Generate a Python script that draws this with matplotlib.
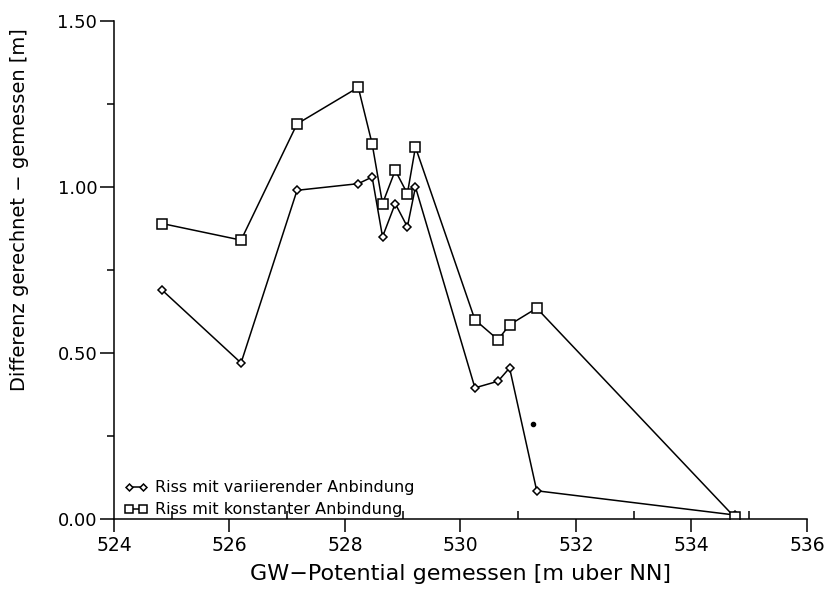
import numpy as np
import matplotlib
matplotlib.use("Agg")
import matplotlib.pyplot as plt
from matplotlib.ticker import MultipleLocator

# GW-Potential gemessen [m über NN]
gw_potential = [524.83, 526.20, 527.17, 528.23, 528.47, 528.65, 528.87,
                529.08, 529.22, 530.25, 530.65, 530.85, 531.32, 534.75]

# Differenz gerechnet - gemessen [m]
diff_variierend = [0.69, 0.47, 0.99, 1.01, 1.03, 0.85, 0.95,
                   0.88, 1.00, 0.395, 0.415, 0.455, 0.085, 0.012]
diff_konstant = [0.89, 0.84, 1.19, 1.30, 1.13, 0.95, 1.05,
                 0.98, 1.12, 0.60, 0.54, 0.585, 0.635, 0.005]

# einzelner Punkt ohne Linie
punkt_x = [531.25]
punkt_y = [0.286]

labels = ["Riss mit variierender Anbindung", "Riss mit konstanter Anbindung"]

fig = plt.figure(figsize=(8.26, 5.96), dpi=100)
ax = fig.add_axes([0.138, 0.1292, 0.839, 0.8356])

ax.plot(gw_potential, diff_variierend, color="black", lw=1.1,
        marker="D", ms=4.4, mfc="white", mec="black", mew=1.1,
        label=labels[0])
ax.plot(gw_potential, diff_konstant, color="black", lw=1.1,
        marker="s", ms=6.6, mfc="white", mec="black", mew=1.1,
        label=labels[1])
ax.plot(punkt_x, punkt_y, "o", color="black", ms=3)

ax.set_xlim(524, 536)
ax.set_ylim(0, 1.5)
ax.xaxis.set_major_locator(MultipleLocator(2))
ax.xaxis.set_minor_locator(MultipleLocator(1))
ax.yaxis.set_major_locator(MultipleLocator(0.5))
ax.yaxis.set_minor_locator(MultipleLocator(0.25))
ax.yaxis.set_major_formatter(matplotlib.ticker.FormatStrFormatter("%.2f"))

for side in ("top", "right"):
    ax.spines[side].set_visible(False)
for side in ("left", "bottom"):
    ax.spines[side].set_linewidth(1.1)

ax.tick_params(axis="x", which="major", direction="out", length=9,
               width=1.1, labelsize=13.5, pad=3)
ax.tick_params(axis="x", which="minor", direction="in", length=6, width=1.1)
ax.tick_params(axis="y", which="major", direction="out", length=10,
               width=1.1, labelsize=13, pad=2)
ax.tick_params(axis="y", which="minor", direction="out", length=5, width=1.1)

ax.set_xlabel("GW\u2212Potential gemessen [m uber NN]", fontsize=16,
              labelpad=7)
fig.text(0.024, 0.648, "Differenz gerechnet \u2212 gemessen [m]",
         rotation=90, fontsize=14, ha="center", va="center")

ax.legend(loc="lower left", bbox_to_anchor=(0.012, 0.0), frameon=False,
          fontsize=11.5, numpoints=2, markerscale=0.8, handlelength=1.5,
          handletextpad=0.45, labelspacing=0.45, borderaxespad=0.0,
          borderpad=0.1)

fig.savefig("out.png", dpi=100)
